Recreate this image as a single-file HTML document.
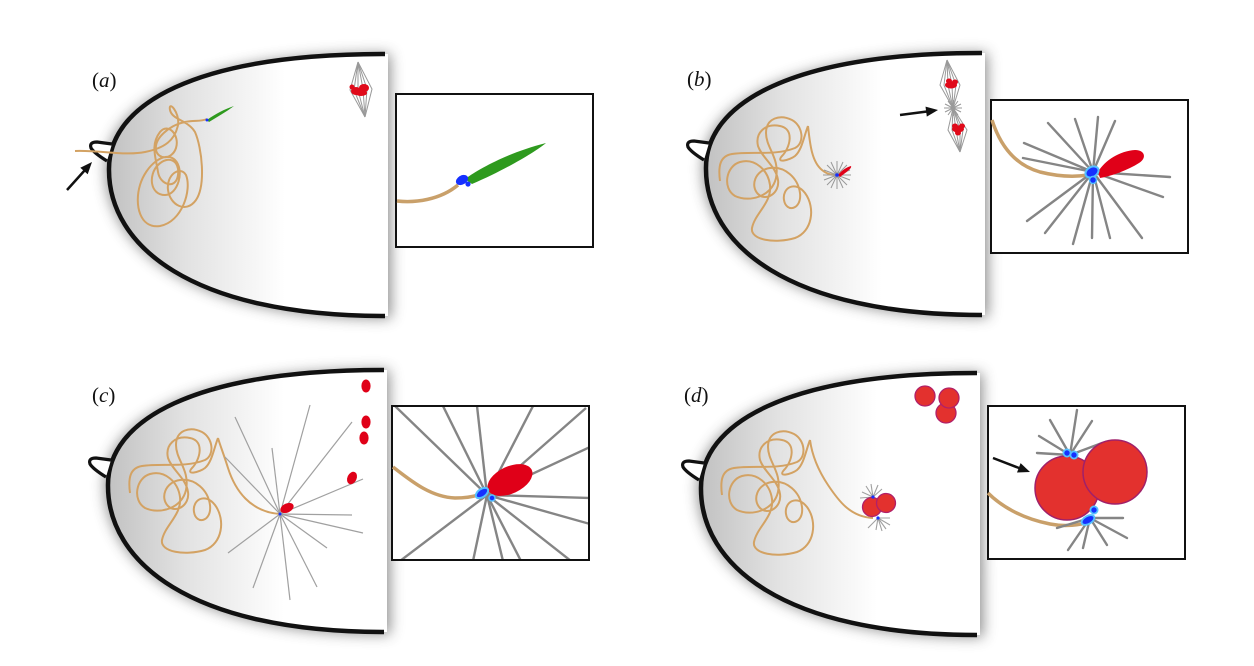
<!DOCTYPE html>
<html><head><meta charset="utf-8"><style>
html,body{margin:0;padding:0;background:#fff;}
svg{display:block;}
.lbl{font-family:"Liberation Serif",serif;font-size:21px;fill:#111;}
</style></head><body>
<svg width="1254" height="666" viewBox="0 0 1254 666" xmlns="http://www.w3.org/2000/svg">
<defs>
 <linearGradient id="eg" gradientUnits="userSpaceOnUse" x1="105" y1="0" x2="285" y2="0">
  <stop offset="0" stop-color="#c0c0c0"/><stop offset="0.45" stop-color="#e2e2e2"/><stop offset="1" stop-color="#ffffff"/>
 </linearGradient>
 <filter id="sh" x="-20%" y="-20%" width="140%" height="140%"><feGaussianBlur stdDeviation="7"/></filter>
 <g id="egg">
  <path d="M390,54 L385,54 C195,54 105,104 106,170 C106,245 190,318 385,318 L391,318 Z" fill="#444" opacity="0.62" filter="url(#sh)"/>
  <path d="M388,54 L385,54 C195,54 108,104 109,170 C109,245 190,316 385,316 L388,316 Z" fill="url(#eg)"/>
  <path d="M385,54 C195,54 108,104 109,170 C109,245 190,316 385,316" fill="none" stroke="#111" stroke-width="4.5"/>
  <path d="M112,144 L97,142 Q89,142 91,148 Q94,153 107,161 Z" fill="#fff"/>
  <path d="M112,144 L97,142 Q89,142 91,148 Q94,153 107,161" fill="none" stroke="#111" stroke-width="3.2" stroke-linejoin="round"/>
 </g>
 <path id="tang" d="M130,493 C128,478 130,468 142,466 C162,463 185,468 205,460 C215,455 213,438 202,432 C190,426 176,430 176,445 C176,460 190,470 186,490 C182,508 160,515 145,508 C132,500 136,478 150,474 C165,470 178,482 180,497 C182,515 165,525 162,540 C160,552 185,556 205,550 C222,544 226,520 215,505 C205,492 192,500 194,512 C196,525 212,522 210,505 C208,490 195,478 180,480 C165,482 160,498 168,506 C176,514 190,505 188,492 C186,478 172,470 168,458 C165,445 175,435 190,438 C205,441 200,460 192,468 C185,476 200,472 205,468 C212,462 214,448 218,438" fill="none" stroke="#d3a263" stroke-width="2"/>
 <clipPath id="cc"><rect x="393" y="407" width="195" height="152"/></clipPath>
</defs>

<!-- eggs -->
<use href="#egg"/>
<use href="#egg" transform="translate(597,-1)"/>
<use href="#egg" transform="translate(-1,316)"/>
<use href="#egg" transform="translate(592,319)"/>

<!-- labels -->
<text class="lbl" x="92" y="87">(<tspan font-style="italic">a</tspan>)</text>
<text class="lbl" x="687" y="86">(<tspan font-style="italic">b</tspan>)</text>
<text class="lbl" x="92" y="402">(<tspan font-style="italic">c</tspan>)</text>
<text class="lbl" x="684" y="402">(<tspan font-style="italic">d</tspan>)</text>

<!-- ===== Panel a ===== -->
<path d="M75,151 C100,150 125,156 145,152 C165,148 175,140 178,125 C180,112 168,100 170,110 C172,120 188,120 195,132 C202,148 206,185 196,200 C186,214 170,205 168,190 C166,175 180,165 186,175 C192,190 182,222 160,226 C140,229 134,205 140,185 C146,165 165,150 175,160 C185,170 178,195 165,195 C150,195 148,175 158,165 C168,155 180,160 178,175 C176,190 160,185 158,172 C156,158 150,145 160,132 C168,122 180,135 176,148 C172,160 158,160 156,150 C154,138 170,125 185,122 C195,120 200,122 207,119" fill="none" stroke="#d3a263" stroke-width="2"/>
<path d="M207,120 C215,114 225,109 234,106 C226,112 217,117 209,122 Z" fill="#2e9a1e"/>
<circle cx="207" cy="120" r="1.5" fill="#1530ff"/>
<!-- arrow a -->
<line x1="67" y1="190" x2="85" y2="170" stroke="#111" stroke-width="2.5"/>
<polygon points="92,162 87.7,174.3 80.3,167.7" fill="#111"/>
<!-- spindle a -->
<g fill="none" stroke="#999" stroke-width="1">
 <path d="M358,62 L350,90 L365,117"/><path d="M358,62 L354,90 L365,117"/><path d="M358,62 L358,90 L365,117"/>
 <path d="M358,62 L363,89 L365,117"/><path d="M358,62 L367,89 L365,117"/><path d="M358,62 L372,89 L365,117"/>
</g>
<g fill="#e00a1a">
 <ellipse cx="356" cy="91" rx="5" ry="4"/><ellipse cx="364" cy="88" rx="5" ry="4"/><ellipse cx="361" cy="93" rx="6" ry="3"/><circle cx="352" cy="87" r="2.5"/>
</g>
<!-- box a -->
<rect x="396" y="94" width="197" height="153" fill="#fff" stroke="#111" stroke-width="2"/>
<path d="M397,201 C415,203 440,200 458,185" fill="none" stroke="#c9a06a" stroke-width="3.5"/>
<path d="M465,179 C480,168 510,152 546,143 C535,152 505,170 472,184 Z" fill="#2e9a1e"/>
<ellipse cx="462" cy="180" rx="6.5" ry="4.5" transform="rotate(-30 462 180)" fill="#1530ff"/>
<circle cx="468" cy="184" r="2.6" fill="#1530ff"/>

<!-- ===== Panel b ===== -->
<use href="#tang" transform="translate(590,-312)"/>
<path d="M808,126 C810,145 812,162 822,170 C828,175 833,175 837,175" fill="none" stroke="#d3a263" stroke-width="2"/>
<path d="M837,175 L851,175 M837,175 L850,170 M837,175 L847,165 M837,175 L843,162 M837,175 L837,161 M837,175 L831,162 M837,175 L827,165 M837,175 L824,170 M837,175 L823,175 M837,175 L824,180 M837,175 L827,185 M837,175 L831,188 M837,175 L837,189 M837,175 L843,188 M837,175 L847,185 M837,175 L850,180" stroke="#999" stroke-width="1"/>
<path d="M838,175 C842,170 847,167 851,166 C852,168 848,171 840,177 Z" fill="#e00018"/>
<circle cx="837" cy="175" r="1.8" fill="#1530ff"/>
<!-- arrow b -->
<line x1="900" y1="115" x2="927" y2="111.5" stroke="#111" stroke-width="2.5"/>
<polygon points="938,110 926.8,116.6 925.5,106.6" fill="#111"/>
<!-- spindle b -->
<g fill="none" stroke="#999" stroke-width="1">
 <path d="M947,60 L940,85 L953,108"/><path d="M947,60 L944,85 L953,108"/><path d="M947,60 L948,85 L953,108"/>
 <path d="M947,60 L952,85 L953,108"/><path d="M947,60 L956,85 L953,108"/><path d="M947,60 L960,85 L953,108"/>
 <path d="M953,108 L948,130 L960,152"/><path d="M953,108 L952,130 L960,152"/><path d="M953,108 L956,130 L960,152"/>
 <path d="M953,108 L960,130 L960,152"/><path d="M953,108 L963,130 L960,152"/><path d="M953,108 L967,130 L960,152"/>
 <path d="M953,108 L962,108 M953,108 L961,104 M953,108 L958,101 M953,108 L953,100 M953,108 L948,101 M953,108 L945,104 M953,108 L944,108 M953,108 L945,112 M953,108 L948,115 M953,108 L953,116 M953,108 L958,115 M953,108 L961,112"/>
</g>
<g fill="#e00a1a">
 <ellipse cx="951" cy="85" rx="6" ry="3.5"/><ellipse cx="949" cy="81" rx="3" ry="2.5"/><ellipse cx="955" cy="82" rx="3" ry="2.5"/>
 <ellipse cx="958" cy="129" rx="6" ry="3.5"/><ellipse cx="955" cy="126" rx="3" ry="2.5"/><ellipse cx="962" cy="126" rx="3" ry="2.5"/><ellipse cx="958" cy="133" rx="3" ry="2.5"/>
</g>
<!-- box b -->
<rect x="991" y="100" width="197" height="153" fill="#fff" stroke="#111" stroke-width="2"/>
<path d="M992,120 C1000,145 1015,165 1040,172 C1060,177 1075,177 1088,175" fill="none" stroke="#c9a06a" stroke-width="3.5"/>
<g stroke="#858585" stroke-width="2.4" stroke-linecap="round">
 <line x1="1093" y1="172" x2="1048" y2="123"/><line x1="1093" y1="172" x2="1075" y2="119"/>
 <line x1="1093" y1="172" x2="1098" y2="117"/><line x1="1093" y1="172" x2="1115" y2="121"/>
 <line x1="1093" y1="172" x2="1024" y2="143"/><line x1="1093" y1="172" x2="1023" y2="158"/>
 <line x1="1093" y1="172" x2="1170" y2="177"/><line x1="1093" y1="172" x2="1163" y2="197"/>
 <line x1="1093" y1="172" x2="1027" y2="221"/><line x1="1093" y1="172" x2="1045" y2="233"/>
 <line x1="1093" y1="172" x2="1073" y2="244"/><line x1="1093" y1="172" x2="1092" y2="238"/>
 <line x1="1093" y1="172" x2="1110" y2="238"/><line x1="1093" y1="172" x2="1142" y2="238"/>
</g>
<path d="M1098,172 C1105,160 1120,151 1135,150 C1145,150 1147,158 1139,163 C1128,170 1112,176 1100,178 Z" fill="#e00018"/>
<ellipse cx="1092" cy="172" rx="7" ry="5" transform="rotate(-30 1092 172)" fill="#1530ff" stroke="#55c0ff" stroke-width="2"/>
<circle cx="1093" cy="180" r="3.5" fill="#1530ff" stroke="#55c0ff" stroke-width="1.5"/>

<!-- ===== Panel c ===== -->
<use href="#tang"/>
<path d="M218,438 C220,445 224,455 228,468 C235,490 250,512 280,514" fill="none" stroke="#d3a263" stroke-width="2"/>
<g stroke="#a0a0a0" stroke-width="1.2">
 <line x1="280" y1="514" x2="310" y2="405"/><line x1="280" y1="514" x2="272" y2="448"/>
 <line x1="280" y1="514" x2="235" y2="417"/><line x1="280" y1="514" x2="225" y2="457"/>
 <line x1="280" y1="514" x2="352" y2="422"/><line x1="280" y1="514" x2="363" y2="479"/>
 <line x1="280" y1="514" x2="352" y2="515"/><line x1="280" y1="514" x2="363" y2="533"/>
 <line x1="280" y1="514" x2="327" y2="548"/><line x1="280" y1="514" x2="317" y2="587"/>
 <line x1="280" y1="514" x2="290" y2="600"/><line x1="280" y1="514" x2="253" y2="588"/>
 <line x1="280" y1="514" x2="228" y2="553"/>
</g>
<ellipse cx="287" cy="508" rx="7" ry="4.5" transform="rotate(-25 287 508)" fill="#e00018"/>
<circle cx="280" cy="514" r="1.5" fill="#1530ff"/>
<g fill="#e00018">
 <ellipse cx="366" cy="386" rx="4.6" ry="6.5"/><ellipse cx="366" cy="422" rx="4.6" ry="6.5"/>
 <ellipse cx="364" cy="438" rx="4.6" ry="6.5"/><ellipse cx="352" cy="478" rx="4.6" ry="6.5" transform="rotate(25 352 478)"/>
</g>
<!-- box c -->
<rect x="392" y="406" width="197" height="154" fill="#fff" stroke="#111" stroke-width="2"/>
<g clip-path="url(#cc)" stroke="#858585" stroke-width="2.4">
 <line x1="487" y1="495" x2="395" y2="406"/><line x1="487" y1="495" x2="443" y2="406"/>
 <line x1="487" y1="495" x2="477" y2="406"/><line x1="487" y1="495" x2="533" y2="406"/>
 <line x1="487" y1="495" x2="586" y2="408"/><line x1="487" y1="495" x2="590" y2="447"/>
 <line x1="487" y1="495" x2="590" y2="498"/><line x1="487" y1="495" x2="590" y2="524"/>
 <line x1="487" y1="495" x2="571" y2="561"/><line x1="487" y1="495" x2="521" y2="561"/>
 <line x1="487" y1="495" x2="503" y2="561"/><line x1="487" y1="495" x2="473" y2="561"/>
 <line x1="487" y1="495" x2="400" y2="561"/>
</g>
<path d="M393,467 C410,480 430,497 455,498 C465,498 472,497 478,495" fill="none" stroke="#c9a06a" stroke-width="3.5"/>
<ellipse cx="510" cy="480" rx="24" ry="13.5" transform="rotate(-25 510 480)" fill="#e00018"/>
<ellipse cx="482" cy="493" rx="7" ry="4" transform="rotate(-35 482 493)" fill="#1530ff" stroke="#55c0ff" stroke-width="2"/>
<circle cx="492" cy="498" r="3" fill="#1530ff" stroke="#55c0ff" stroke-width="1.5"/>

<!-- ===== Panel d ===== -->
<use href="#tang" transform="translate(592,2)"/>
<path d="M810,440 C812,455 818,470 828,485 C838,500 850,517 873,518" fill="none" stroke="#d3a263" stroke-width="2"/>
<g stroke="#a0a0a0" stroke-width="1.1">
 <path d="M873,497 L866,486 M873,497 L871,484 M873,497 L878,485 M873,497 L862,492 M873,497 L882,489 M873,497 L860,498"/>
 <path d="M878,518 L886,529 M878,518 L882,531 M878,518 L876,530 M878,518 L890,525 M878,518 L890,518 M878,518 L868,528"/>
</g>
<g fill="#e3312e" stroke="#b0206a" stroke-width="1.3">
 <circle cx="872" cy="507" r="9.5"/><circle cx="886" cy="503" r="9.5"/>
 <circle cx="925" cy="396" r="10"/><circle cx="946" cy="413" r="10"/><circle cx="949" cy="398" r="10"/>
</g>
<circle cx="873" cy="497" r="1.6" fill="#1530ff"/><circle cx="878" cy="518" r="1.6" fill="#1530ff"/>
<!-- box d -->
<rect x="988" y="406" width="197" height="153" fill="#fff" stroke="#111" stroke-width="2"/>
<line x1="993" y1="458" x2="1019" y2="468" stroke="#111" stroke-width="2.5"/>
<polygon points="1030,472 1017,472.5 1020.6,463.1" fill="#111"/>
<path d="M988,493 C1000,505 1020,518 1050,524 C1065,527 1080,525 1090,522" fill="none" stroke="#c9a06a" stroke-width="3.5"/>
<g stroke="#858585" stroke-width="2.4" stroke-linecap="round">
 <line x1="1070" y1="455" x2="1077" y2="410"/><line x1="1070" y1="455" x2="1092" y2="421"/>
 <line x1="1070" y1="455" x2="1050" y2="420"/><line x1="1070" y1="455" x2="1039" y2="436"/>
 <line x1="1070" y1="455" x2="1037" y2="453"/><line x1="1070" y1="455" x2="1102" y2="443"/>
 <line x1="1090" y1="518" x2="1057" y2="528"/><line x1="1090" y1="518" x2="1068" y2="550"/>
 <line x1="1090" y1="518" x2="1083" y2="548"/><line x1="1090" y1="518" x2="1107" y2="545"/>
 <line x1="1090" y1="518" x2="1127" y2="538"/><line x1="1090" y1="518" x2="1123" y2="518"/>
</g>
<g fill="#e3312e" stroke="#a0206a" stroke-width="1.5">
 <circle cx="1067" cy="488" r="32"/><circle cx="1115" cy="472" r="32"/>
</g>
<g fill="#1530ff" stroke="#55c0ff" stroke-width="1.8">
 <circle cx="1067" cy="453" r="3.6"/><circle cx="1074" cy="455" r="3.6"/>
 <circle cx="1094" cy="510" r="3.6"/>
 <ellipse cx="1088" cy="520" rx="7" ry="4" transform="rotate(-30 1088 520)"/>
</g>
</svg>
</body></html>
